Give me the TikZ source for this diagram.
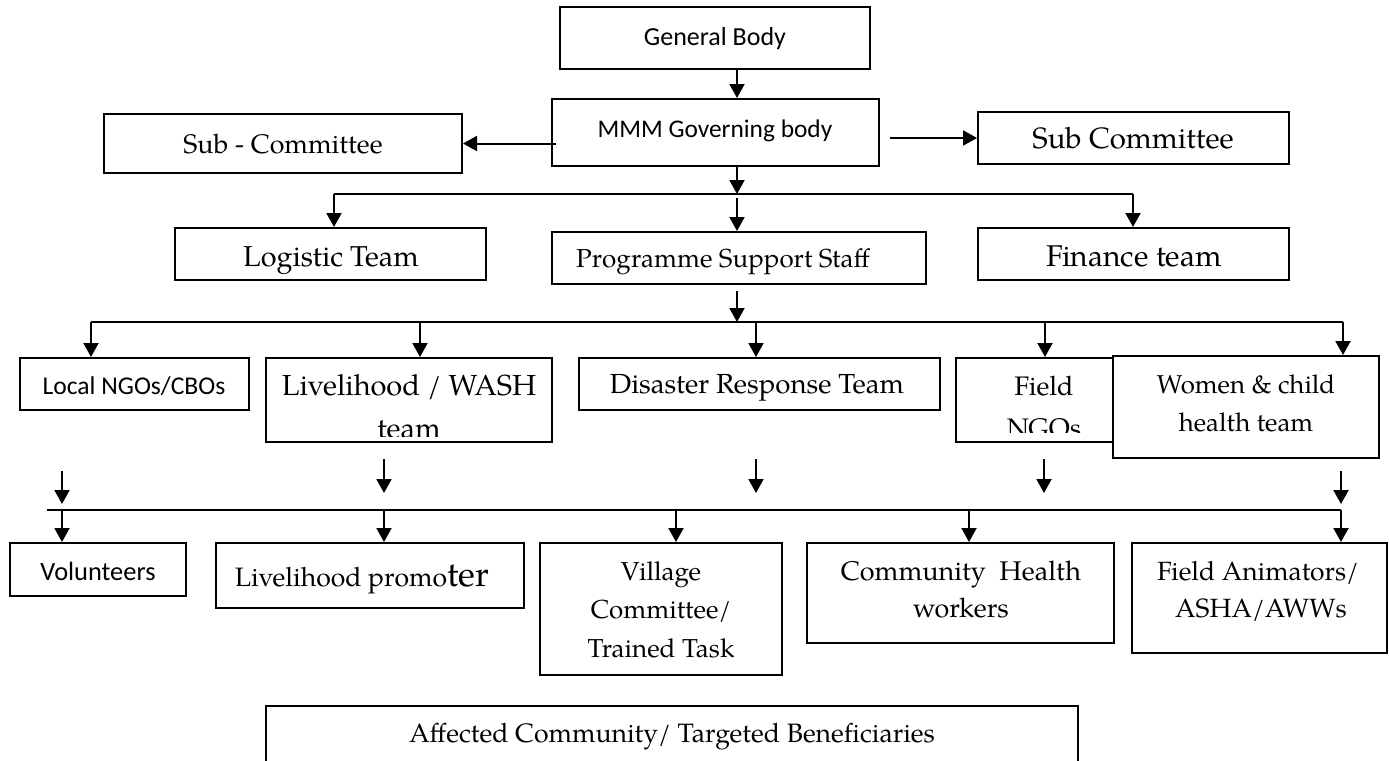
\documentclass[tikz,border=0pt]{standalone}
\usepackage{fontspec}
\setmainfont{texgyrepagella}[Extension=.otf, UprightFont=*-regular]
\newfontfamily\calibri{Carlito}
\usetikzlibrary{arrows.meta}

% box from corner (x1,y1) to corner (x2,y2), in pixel-like units
\newcommand\orgbox[5]{\node[box, minimum width={(#4-#2)*0.5pt}, minimum height={(#5-#3)*0.5pt}] (#1) at ({(#2+#4)/2},{(#3+#5)/2}) {};}
\newcommand\fsz[1]{\fontsize{#1pt}{1.5em}\selectfont}

\begin{document}
\begin{tikzpicture}[x=0.5pt,y=-0.5pt,
  box/.style={draw=black, line width=1pt, fill=white, inner sep=0pt},
  lbl/.style={inner sep=0pt, anchor=base},
  sans/.style={lbl, font=\calibri\fsz{#1}},
  serif/.style={lbl, font=\fsz{#1}},
  arr/.style={line width=1pt, -{Triangle[width=7.5pt,length=7pt]}},
  bus/.style={line width=1pt},
]
\useasboundingbox (0,0) rectangle (1389,761);
\clip (0,0) rectangle (1389,761);

% ---- boxes ----
\orgbox{gb}{560}{7}{870}{69}
\orgbox{mmm}{552}{99}{879}{166}
\orgbox{subL}{104}{114}{462}{173}
\orgbox{subR}{978}{112}{1289}{164}
\orgbox{log}{175}{228}{486}{280}
\orgbox{pss}{552}{232}{926}{284}
\orgbox{fin}{978}{228}{1289}{280}
\orgbox{lngo}{20}{358}{249}{410}
\orgbox{lw}{266}{358}{552}{442}
\orgbox{drt}{579}{358}{940}{410}
\orgbox{fngo}{956}{358}{1132}{442}
\orgbox{wc}{1113}{356}{1379}{458}
\orgbox{vol}{10}{543}{186}{596}
\orgbox{lp}{216}{543}{524}{608}
\orgbox{vc}{540}{543}{782}{675}
\orgbox{chw}{807}{543}{1114}{643}
\orgbox{fa}{1132}{543}{1387}{653}
\orgbox{ac}{266}{706}{1078}{800}

% ---- labels ----
\node[sans=13] (gb-t) at (715,45) {General Body};
\node[sans=12.7] (mmm-t) at (715,137) {MMM Governing body};
\node[serif=13.4] (subL-t) at (283,153) {Sub - Committee};
\node[serif=14.7] (subR-t) at (1133,148) {Sub Committee};
\node[serif=14.4] (log-t) at (331,266) {Logistic Team};
\node[serif=13] (pss-t) at (723,267) {Programme Support Staff};
\node[serif=15] (fin-t) at (1134,266) {Finance team};
\node[sans=12.8] (lngo-t) at (134,394) {Local NGOs/CBOs};
\node[serif=14.5] (lw-t1) at (409,395) {Livelihood / WASH};
\begin{scope}
  \clip (266,358) rectangle (552,436);
  \node[serif=14.5] (lw-t2) at (409,438) {team};
\end{scope}
\node[serif=13.8] (drt-t) at (757,393) {Disaster Response Team};
\node[serif=13.4] (fngo-t1) at (1044,395) {Field};
\begin{scope}
  \clip (956,358) rectangle (1113,432);
  \node[serif=13.4] (fngo-t2) at (1044,437) {NGOs};
\end{scope}
\node[serif=12.9] (wc-t1) at (1246,393) {Women \& child};
\node[serif=12.9] (wc-t2) at (1246,431) {health team};
\node[sans=13.2] (vol-t) at (98,580) {Volunteers};
\node[serif=13.3] (lp-t) at (362,586) {Livelihood promo{\fsz{17.5}ter}};
\node[serif=13] (vc-t1) at (661,580) {Village};
\node[serif=13] (vc-t2) at (661,618.5) {Committee/};
\node[serif=13] (vc-t3) at (661,657) {Trained Task};
\node[serif=13.5] (chw-t1) at (961,580) {Community\ \ Health};
\node[serif=13.5] (chw-t2) at (961,617) {workers};
\node[serif=13.2] (fa-t1) at (1258,580) {Field Animators/};
\node[serif=13.2] (fa-t2) at (1261,617) {ASHA/AWWs};
\node[serif=13.3] (ac-t) at (672,742) {Affected Community/ Targeted Beneficiaries};

% ---- first level ----
\coordinate (b1) at (737,194);
\coordinate (b1L) at (334,194);
\coordinate (b1R) at (1133,194);
\draw[arr] (gb.south -| b1) -- (mmm.north -| b1);
\draw[arr] ([xshift=2.5pt]mmm.west |- subL.east) -- (subL.east);
\draw[arr] ([xshift=5pt]mmm.east |- subR.west) -- (subR.west);
\draw[arr] (mmm.south -| b1) -- (b1);
\draw[bus] (b1L) -- (b1R);
\draw[arr] (b1L) -- (log.north -| b1L);
\draw[arr] ([yshift=-2pt]b1) -- (pss.north -| b1);
\draw[arr] (b1R) -- (fin.north -| b1R);

% ---- second level ----
\coordinate (b2) at (737,322);
\coordinate (b2L) at (91,322);
\coordinate (b2R) at (1343,322);
\coordinate (k2) at (420,322);
\coordinate (k3) at (756,322);
\coordinate (k4) at (1045,322);
\draw[arr] ([yshift=-3pt]pss.south -| b2) -- (b2);
\draw[bus] (b2L) -- (b2R);
\draw[arr] (b2L) -- (lngo.north -| b2L);
\draw[arr] (k2) -- (lw.north -| k2);
\draw[arr] (k3) -- (drt.north -| k3);
\draw[arr] (k4) -- (fngo.north -| k4);
\draw[arr] (b2R) -- (wc.north -| b2R);

% ---- third level ----
\coordinate (u1s) at (62,471);   \coordinate (u1e) at (62,504);
\coordinate (u2s) at (384,459);  \coordinate (u2e) at (384,493);
\coordinate (u3s) at (756,459);  \coordinate (u3e) at (756,493);
\coordinate (u4s) at (1044,459); \coordinate (u4e) at (1044,493);
\coordinate (u5s) at (1341,471); \coordinate (u5e) at (1341,504);
\foreach \i in {1,...,5} { \draw[arr] (u\i s) -- (u\i e); }

\coordinate (b3L) at (47,510);
\coordinate (b3R) at (1341,510);
\coordinate (d1) at (62,510);
\coordinate (d2) at (384,510);
\coordinate (d3) at (676,510);
\coordinate (d4) at (969,510);
\draw[bus] (b3L) -- (b3R);
\draw[arr] (d1) -- (vol.north -| d1);
\draw[arr] (d2) -- (lp.north -| d2);
\draw[arr] (d3) -- (vc.north -| d3);
\draw[arr] (d4) -- (chw.north -| d4);
\draw[arr] (b3R) -- (fa.north -| b3R);
\end{tikzpicture}
\end{document}
